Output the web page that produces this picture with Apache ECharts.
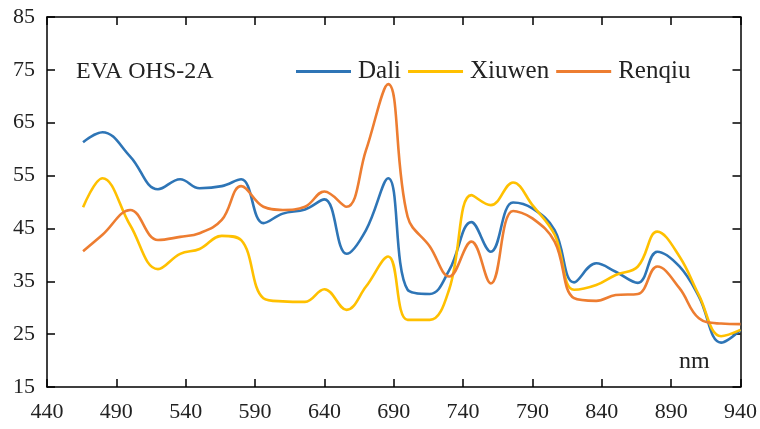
<!DOCTYPE html>
<html>
<head>
<meta charset="utf-8">
<script src="https://cdn.jsdelivr.net/npm/echarts@6/dist/echarts.min.js"></script>
<style>
  html, body { margin: 0; padding: 0; background: #fff; }
  #chart { width: 760px; height: 429px; }
</style>
</head>
<body>
<div id="chart"></div>
<script>
// OHS-2A band centres (nm)
const wavelengths = [466, 480, 500, 520, 536, 550, 566, 580, 596, 610, 626, 640, 656, 670, 686, 700,
  716, 730, 746, 760, 776, 790, 806, 820, 836, 850, 866, 880, 896, 910, 926, 940]

const dali = [61.3, 63.2, 58.6, 52.4, 54.3, 52.6, 53.0, 54.3, 46.0, 47.8, 48.6, 50.5, 40.2, 44.7, 54.5, 33.4,
  32.6, 37.1, 46.2, 40.6, 49.9, 48.8, 44.7, 34.8, 38.4, 36.8, 34.7, 40.6, 37.8, 32.1, 23.4, 25.8]

const xiuwen = [49.0, 54.5, 45.6, 37.3, 40.2, 41.1, 43.6, 42.8, 31.8, 31.2, 31.1, 33.5, 29.6, 34.0, 39.7, 27.7,
  27.7, 33.5, 51.3, 49.4, 53.7, 49.4, 43.8, 33.4, 34.3, 36.2, 37.8, 44.4, 39.7, 32.4, 24.6, 25.8]

const renqiu = [40.7, 43.8, 48.5, 42.8, 43.4, 44.1, 46.6, 53.0, 49.1, 48.5, 49.1, 52.0, 49.1, 59.8, 72.3, 47.2,
  41.6, 35.9, 42.5, 34.6, 48.3, 46.9, 42.5, 31.8, 31.3, 32.4, 32.6, 37.8, 33.7, 28.0, 27.0, 26.9]

const seriesNames = ['Dali', 'Xiuwen', 'Renqiu']
const seriesValues = [dali, xiuwen, renqiu]
const colors = ['#2E75B6', '#FFC000', '#ED7D31']

const font = '"Liberation Serif", "Times New Roman", serif'

// 四边都画刻度，所以每个方向各用两根轴
const axisCommon = {
  axisLine: { show: true, lineStyle: { color: '#000', width: 1.5 } },
  axisTick: { show: true, inside: true, length: 8, lineStyle: { color: '#000', width: 1.5 } },
  splitLine: { show: false }
}

const option = {
  animation: false,
  color: colors,
  grid: { left: 47, right: 19, top: 17, bottom: 42 },
  title: {
    text: 'EVA OHS-2A',
    left: 71,
    top: 55,
    textStyle: { fontFamily: font, fontSize: 24, fontWeight: 'normal', color: '#222' }
  },
  legend: {
    data: seriesNames,
    left: 291,
    top: 54,
    icon: 'rect',
    itemWidth: 55,
    itemHeight: 3,
    itemGap: 7,
    textStyle: { fontFamily: font, fontSize: 25, color: '#222', padding: [0, 0, 0, 2] }
  },
  graphic: [{
    type: 'text',
    left: 679,
    top: 350,
    style: { text: 'nm', font: '24px "Liberation Serif", "Times New Roman", serif', fill: '#222' }
  }],
  xAxis: [
    Object.assign({
      type: 'value', min: 440, max: 940, interval: 50, position: 'bottom',
      axisLabel: { fontFamily: font, fontSize: 22, color: '#222', margin: 14 }
    }, axisCommon),
    Object.assign({
      type: 'value', min: 440, max: 940, interval: 50, position: 'top',
      axisLabel: { show: false }
    }, axisCommon)
  ],
  yAxis: [
    Object.assign({
      type: 'value', min: 15, max: 85, interval: 10, position: 'left',
      axisLabel: { fontFamily: font, fontSize: 22, color: '#222', margin: 12 }
    }, axisCommon),
    Object.assign({
      type: 'value', min: 15, max: 85, interval: 10, position: 'right',
      axisLabel: { show: false }
    }, axisCommon)
  ],
  series: seriesNames.map((name, i) => ({
    name: name,
    type: 'line',
    smooth: 0.4,
    showSymbol: false,
    lineStyle: { width: 2.6, color: colors[i] },
    itemStyle: { color: colors[i] },
    data: wavelengths.map((w, j) => [w, seriesValues[i][j]])
  }))
}

const myChart = echarts.init(document.getElementById('chart'))
myChart.setOption(option)
</script>
</body>
</html>
